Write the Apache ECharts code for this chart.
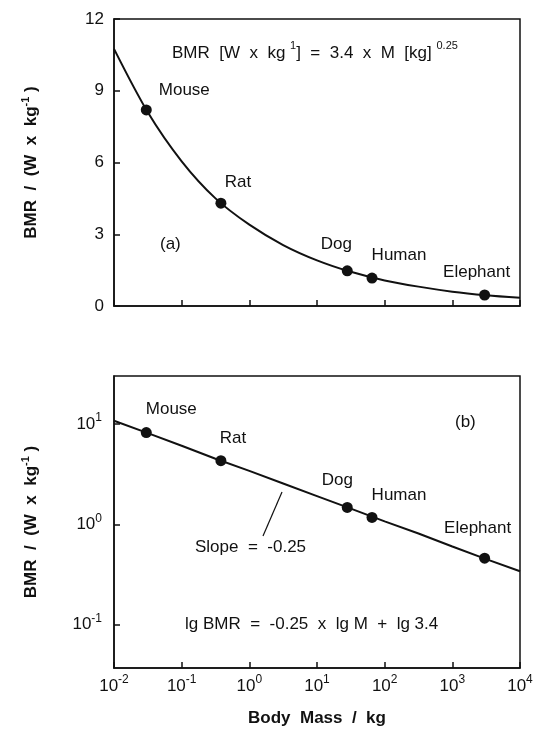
<!DOCTYPE html>
<html>
<head>
<meta charset="utf-8">
<script src="https://cdn.jsdelivr.net/npm/echarts@6/dist/echarts.min.js"></script>
<style>
  html, body { margin: 0; background: #fff; }
  #chart { width: 540px; height: 733px; }
</style>
</head>
<body>
<div id="chart"></div>
<script>
// animals and their measured values
const animals = ['Mouse', 'Rat', 'Dog', 'Human', 'Elephant'];
const bodyMass = [0.03, 0.38, 28, 65, 3000];      // kg
const bmr = [8.2, 4.3, 1.47, 1.17, 0.46];         // W / kg

// the fitted curve
const curveMass = [0.01, 0.0316, 0.1, 0.316, 1, 3.16, 10, 31.6, 100, 316, 1000, 3160, 10000];
const curveBmr = [10.75, 8.1, 6.05, 4.5, 3.4, 2.55, 1.91, 1.43, 1.07, 0.81, 0.6, 0.45, 0.34];

// label nudges (px) for panel a and panel b
const offA = [[38, -20], [17, -21], [-11, -27], [27, -23], [-8, -23]];
const offB = [[25, -23], [12, -22], [-10, -27], [27, -22], [-7, -30]];

const FONT = '"Liberation Sans", Arial, sans-serif';
const INK = '#111';

let myChart = echarts.init(document.getElementById('chart'));

function points(offs) {
    return bodyMass.map((m, i) => ({
        value: [m, bmr[i]],
        label: { offset: offs[i] }
    }));
}
const curve = curveMass.map((m, i) => [m, curveBmr[i]]);

// 10 with superscript exponent
const powRich = {
    b: { fontSize: 17, fontFamily: FONT, color: INK, lineHeight: 24 },
    s: { fontSize: 12, fontFamily: FONT, color: INK, verticalAlign: 'top', lineHeight: 24 }
};
function powLabel(v) {
    return '{b|10}{s|' + Math.round(Math.log10(v)) + '}';
}

const yName = '{t|BMR  /  (W  x  kg}{s|-1}{t| )}';
const yNameStyle = {
    fontFamily: FONT, color: INK,
    rich: {
        t: { fontSize: 17, fontWeight: 'bold', fontFamily: FONT, color: INK, lineHeight: 22 },
        s: { fontSize: 11, fontWeight: 'bold', fontFamily: FONT, color: INK, verticalAlign: 'top', lineHeight: 22 }
    }
};

const axisLine = { lineStyle: { color: INK, width: 1.5 } };
const tickIn = { inside: true, length: 6, lineStyle: { color: INK, width: 1.5 } };

const dotLabel = {
    show: true,
    position: 'inside',
    formatter: p => animals[p.dataIndex],
    color: INK,
    fontSize: 17,
    fontFamily: FONT
};

let option = {
    backgroundColor: '#fff',
    animation: false,
    grid: [
        { left: 114, right: 20, top: 19, height: 287, show: true, borderColor: INK, borderWidth: 1.5 },
        { left: 114, right: 20, top: 376, height: 292, show: true, borderColor: INK, borderWidth: 1.5 }
    ],
    xAxis: [
        {
            gridIndex: 0, type: 'log', logBase: 10, min: 0.01, max: 10000,
            axisLine: axisLine, axisTick: tickIn,
            axisLabel: { show: false }, splitLine: { show: false }, minorTick: { show: false }
        },
        {
            gridIndex: 1, type: 'log', logBase: 10, min: 0.01, max: 10000,
            axisLine: axisLine, axisTick: tickIn,
            axisLabel: { formatter: powLabel, rich: powRich, margin: 6 },
            splitLine: { show: false },
            name: 'Body  Mass  /  kg', nameLocation: 'middle', nameGap: 42,
            nameTextStyle: { fontFamily: FONT, fontSize: 17, fontWeight: 'bold', color: INK }
        }
    ],
    yAxis: [
        {
            gridIndex: 0, type: 'value', min: 0, max: 12, interval: 3,
            axisLine: axisLine, axisTick: tickIn, splitLine: { show: false },
            axisLabel: { fontSize: 17, fontFamily: FONT, color: INK, margin: 10 },
            name: yName, nameLocation: 'middle', nameGap: 72, nameTextStyle: yNameStyle
        },
        {
            gridIndex: 1, type: 'log', logBase: 10, min: 0.037, max: 30,
            axisLine: axisLine, axisTick: tickIn, splitLine: { show: false },
            axisLabel: { formatter: powLabel, rich: powRich, margin: 12, showMinLabel: false, showMaxLabel: false },
            name: yName, nameLocation: 'middle', nameGap: 72, nameTextStyle: yNameStyle
        }
    ],
    series: [
        {
            type: 'line', xAxisIndex: 0, yAxisIndex: 0, data: curve,
            smooth: 0.3, showSymbol: false, lineStyle: { color: INK, width: 2 }, z: 2
        },
        {
            type: 'line', xAxisIndex: 1, yAxisIndex: 1, data: curve,
            showSymbol: false, lineStyle: { color: INK, width: 2 }, z: 2
        },
        {
            type: 'scatter', xAxisIndex: 0, yAxisIndex: 0, data: points(offA),
            symbolSize: 11, itemStyle: { color: INK, opacity: 1 }, label: dotLabel, z: 3
        },
        {
            type: 'scatter', xAxisIndex: 1, yAxisIndex: 1, data: points(offB),
            symbolSize: 11, itemStyle: { color: INK, opacity: 1 }, label: dotLabel, z: 3
        }
    ],
    graphic: [
        {
            type: 'text', left: 172, top: 40,
            style: {
                text: '{t|BMR  [W  x  kg }{s|1}{t|]  =  3.4  x  M  [kg] }{s|0.25}',
                rich: {
                    t: { fontSize: 17, fontFamily: FONT, fill: INK, lineHeight: 26 },
                    s: { fontSize: 11, fontFamily: FONT, fill: INK, verticalAlign: 'top', lineHeight: 26 }
                }
            }
        },
        { type: 'text', left: 160, top: 236, style: { text: '(a)', fontSize: 17, fontFamily: FONT, fill: INK } },
        { type: 'text', left: 455, top: 414, style: { text: '(b)', fontSize: 17, fontFamily: FONT, fill: INK } },
        { type: 'text', left: 195, top: 539, style: { text: 'Slope  =  -0.25', fontSize: 17, fontFamily: FONT, fill: INK } },
        {
            type: 'line', shape: { x1: 263, y1: 536, x2: 282, y2: 492 },
            style: { stroke: INK, lineWidth: 1.2 }
        },
        { type: 'text', left: 185, top: 616, style: { text: 'lg BMR  =  -0.25  x  lg M  +  lg 3.4', fontSize: 17, fontFamily: FONT, fill: INK } }
    ]
};

myChart.setOption(option);
</script>
</body>
</html>
